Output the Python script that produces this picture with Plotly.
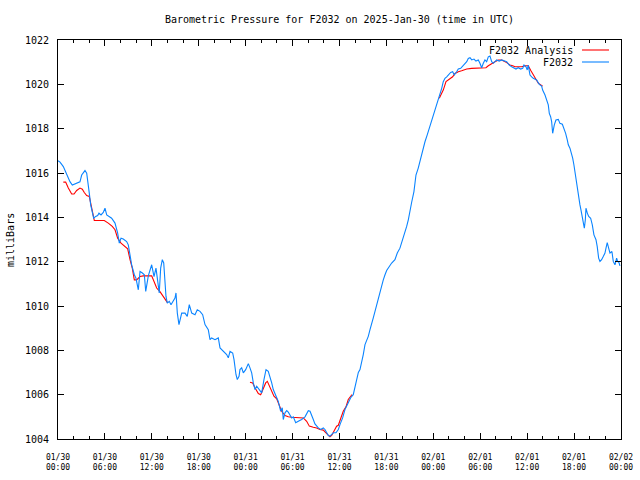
import plotly.graph_objects as go

# ---- data (hours since 2025-01-30 00:00 UTC, pressure in mbar) ----
obs_hours = [0.0, 0.26, 0.68, 0.9, 1.1, 1.53, 1.83, 2.39, 2.81, 3.03, 3.45, 3.67, 3.79, 4.0, 4.18, 4.39, 4.56, 4.82,
             5.07, 5.24, 5.5, 5.79, 6.01, 6.23, 6.43, 6.86, 7.29, 7.5, 7.63, 7.84, 8.06, 8.35, 8.78, 8.99, 9.21, 9.42,
             9.76, 9.97, 10.27, 10.49, 10.79, 11.04, 11.22, 11.55, 11.98, 12.28, 12.53, 12.75, 12.95, 13.13, 13.34,
             13.52, 13.64, 13.81, 13.98, 14.23, 14.45, 14.67, 14.96, 15.09, 15.26, 15.47, 15.69, 15.82, 16.24, 16.53,
             16.79, 17.1, 17.52, 17.81, 18.16, 18.5, 18.8, 19.22, 19.44, 19.65, 20.08, 20.5, 20.72, 21.14, 21.57,
             21.78, 22.0, 22.34, 22.51, 22.76, 22.93, 23.15, 23.27, 23.49, 23.7, 24.0, 24.34, 24.55, 24.77, 24.98,
             25.19, 25.41, 25.74, 26.05, 26.34, 26.6, 26.89, 27.11, 27.33, 27.53, 27.75, 27.97, 28.17, 28.3, 28.48,
             28.68, 28.81, 29.03, 29.25, 29.45, 29.67, 29.89, 30.09, 30.4, 30.73, 31.16, 31.59, 31.8, 32.01, 32.23,
             32.44, 32.65, 32.86, 33.08, 33.29, 33.59, 33.93, 34.14, 34.36, 34.57, 34.78, 35.0, 35.21, 35.55, 35.85,
             36.06, 36.4, 36.7, 37.12, 37.43, 37.76, 37.98, 38.2, 38.41, 38.62, 38.83, 39.04, 39.26, 39.68, 39.9,
             40.12, 40.32, 40.54, 40.75, 40.96, 41.18, 41.4, 41.6, 41.82, 42.03, 42.37, 42.67, 43.09, 43.39, 43.73,
             43.95, 44.16, 44.37, 44.59, 44.8, 45.01, 45.23, 45.52, 45.78, 46.07, 46.38, 46.64, 46.93, 47.22, 47.48,
             47.79, 48.08, 48.43, 48.63, 48.85, 49.07, 49.27, 49.49, 49.71, 49.91, 50.22, 50.47, 50.68, 50.98, 51.19,
             51.5, 51.83, 52.05, 52.27, 52.47, 52.69, 52.91, 53.2, 53.45, 53.75, 53.96, 54.18, 54.39, 54.6, 54.82,
             55.03, 55.24, 55.46, 55.67, 55.88, 56.1, 56.43, 56.74, 57.38, 57.71, 58.02, 58.31, 58.57, 58.86, 59.17,
             59.43, 59.59, 59.85, 60.01, 60.14, 60.36, 60.58, 60.78, 61.21, 61.55, 61.85, 61.98, 62.28, 62.49, 62.7,
             62.83, 63.0, 63.13, 63.26, 63.47, 63.68, 63.98, 64.19, 64.5, 64.71, 64.92, 65.13, 65.26, 65.47, 65.69,
             65.82, 65.98, 66.11, 66.24, 66.41, 66.54, 66.75, 66.88, 67.05, 67.18, 67.31, 67.44, 67.52, 67.69, 67.87,
             68.12, 68.33, 68.54, 68.8, 68.96, 69.14, 69.31, 69.52, 69.73, 69.95, 70.08, 70.24, 70.42, 70.59, 70.84,
             71.01, 71.23, 71.44, 71.57, 71.74, 71.87]
obs_mbar = [1016.55, 1016.49, 1016.29, 1016.11, 1015.99, 1015.61, 1015.46, 1015.54, 1015.6, 1015.91, 1016.11, 1015.99,
            1015.54, 1015.09, 1014.56, 1014.26, 1013.96, 1014.04, 1014.08, 1014.19, 1014.11, 1014.22, 1014.41, 1014.11,
            1014.07, 1013.96, 1013.74, 1013.44, 1013.29, 1012.84, 1013.06, 1013.02, 1012.91, 1012.76, 1012.23, 1011.86,
            1011.41, 1011.26, 1010.73, 1011.56, 1011.49, 1011.41, 1010.66, 1011.36, 1011.86, 1011.33, 1011.71, 1011.04,
            1010.59, 1011.71, 1012.09, 1011.94, 1011.26, 1010.43, 1010.13, 1010.21, 1010.06, 1010.21, 1010.36, 1010.59,
            1009.68, 1009.16, 1009.53, 1009.68, 1009.68, 1009.53, 1010.06, 1009.68, 1009.61, 1009.83, 1009.76, 1009.61,
            1009.16, 1008.93, 1008.48, 1008.56, 1008.48, 1008.56, 1008.11, 1007.95, 1007.81, 1007.66, 1007.95, 1007.88,
            1007.58, 1006.91, 1006.68, 1006.83, 1007.13, 1007.21, 1006.98, 1007.13, 1007.4, 1007.21, 1006.98, 1006.53,
            1006.23, 1006.38, 1006.23, 1006.08, 1006.68, 1007.13, 1007.05, 1006.83, 1006.53, 1006.23, 1006.0, 1005.86,
            1005.7, 1005.48, 1005.25, 1005.41, 1004.88, 1005.18, 1005.28, 1005.21, 1005.06, 1004.95, 1005.0, 1004.73,
            1004.8, 1004.88, 1005.0, 1005.18, 1005.28, 1005.25, 1005.1, 1004.88, 1004.68, 1004.58, 1004.5, 1004.43,
            1004.5, 1004.43, 1004.31, 1004.16, 1004.13, 1004.2, 1004.28, 1004.28, 1004.43, 1004.65, 1004.95, 1005.33,
            1005.63, 1005.86, 1006.0, 1006.3, 1006.7, 1007.0, 1007.13, 1007.43, 1007.81, 1008.26, 1008.63, 1008.93,
            1009.16, 1009.46, 1009.76, 1010.06, 1010.36, 1010.59, 1010.96, 1011.18, 1011.41, 1011.6, 1011.78, 1011.94,
            1012.09, 1012.39, 1012.61, 1012.84, 1013.14, 1013.36, 1013.59, 1013.89, 1014.34, 1014.68, 1015.16, 1015.91,
            1016.22, 1016.67, 1017.04, 1017.41, 1017.72, 1018.02, 1018.39, 1018.69, 1019.07, 1019.29, 1019.52, 1019.82,
            1020.12, 1020.27, 1020.34, 1020.42, 1020.54, 1020.57, 1020.42, 1020.57, 1020.69, 1020.72, 1020.87, 1020.95,
            1021.02, 1021.17, 1021.2, 1021.1, 1021.14, 1021.05, 1021.1, 1020.95, 1020.75, 1020.95, 1021.1, 1021.02,
            1021.24, 1021.28, 1021.02, 1020.95, 1021.02, 1021.1, 1021.05, 1021.1, 1021.02, 1020.87, 1020.79, 1020.72,
            1020.69, 1020.75, 1020.69, 1020.72, 1020.87, 1020.79, 1020.65, 1020.87, 1020.42, 1020.34, 1020.27, 1020.2,
            1020.0, 1019.92, 1019.74, 1019.52, 1019.29, 1019.07, 1018.69, 1018.54, 1018.32, 1017.79, 1018.17, 1018.39,
            1018.42, 1018.24, 1018.2, 1018.02, 1017.79, 1017.49, 1017.27, 1017.12, 1016.89, 1016.67, 1016.36, 1016.06,
            1015.69, 1015.32, 1014.86, 1014.56, 1014.34, 1014.04, 1013.66, 1013.51, 1013.89, 1014.41, 1014.19, 1014.04,
            1013.96, 1013.66, 1013.21, 1012.99, 1012.68, 1012.16, 1012.01, 1012.09, 1012.23, 1012.39, 1012.61, 1012.86,
            1012.61, 1012.39, 1012.46, 1012.01, 1011.86, 1012.16, 1012.01, 1011.96, 1011.81]

# analysis: three segments separated by gaps (None)
ana_hours = [0.68, 0.98, 1.32, 1.75, 2.05, 2.39, 2.81, 3.11, 3.36, 3.67, 4.0, 4.18, 4.39, 4.64, 5.07, 5.92, 6.43, 6.94,
             7.29, 7.63, 8.06, 8.57, 8.91, 9.21, 9.5, 9.76, 10.06, 10.49, 10.91, 11.98, 12.28, 12.62, 13.04, 13.47,
             13.81, 14.0, None,
             24.55, 24.9, 25.19, 25.62, 25.92, 26.26, 26.56, 26.77, 27.02, 27.33, 27.62, 27.97, 28.3, 28.6, 29.03,
             29.45, 29.89, 31.37, 31.8, 32.14, 32.65, 33.08, 33.5, 33.93, 34.27, 34.57, 34.78, 35.0, 35.29, 35.63,
             35.85, 36.16, 36.48, 36.83, 37.12, 37.43, 37.6, None,
             48.76, 49.27, 49.62, 49.91, 50.13, 50.47, 50.77, 51.19, 51.62, 52.27, 52.91, 53.54, 54.3, 54.73, 55.03,
             55.46, 55.88, 56.31, 56.74, 57.38, 57.8, 58.15, 58.44, 58.86, 59.29, 59.72, 60.14, 60.5, 61.0, 61.42,
             61.98]
ana_mbar = [1015.59, 1015.59, 1015.32, 1015.05, 1015.05, 1015.21, 1015.32, 1015.27, 1015.12, 1014.98, 1014.94, 1014.64,
            1014.26, 1013.86, 1013.86, 1013.86, 1013.74, 1013.59, 1013.44, 1013.06, 1012.84, 1012.66, 1012.58, 1012.09,
            1011.71, 1011.18, 1011.18, 1011.33, 1011.36, 1011.36, 1011.11, 1010.81, 1010.65, 1010.4, 1010.21, 1010.15,
            None,
            1006.56, 1006.53, 1006.31, 1006.05, 1006.0, 1006.31, 1006.53, 1006.6, 1006.38, 1006.15, 1005.93, 1005.81,
            1005.48, 1005.25, 1005.06, 1005.0, 1004.98, 1004.95, 1004.8, 1004.58, 1004.53, 1004.5, 1004.43, 1004.4,
            1004.28, 1004.16, 1004.1, 1004.16, 1004.35, 1004.58, 1004.62, 1004.95, 1005.25, 1005.45, 1005.78, 1005.93,
            1006.0, None,
            1019.37, 1019.74, 1020.12, 1020.19, 1020.27, 1020.34, 1020.49, 1020.57, 1020.61, 1020.69, 1020.72, 1020.72,
            1020.72, 1020.75, 1020.84, 1020.95, 1021.02, 1021.1, 1021.1, 1020.98, 1020.87, 1020.84, 1020.79, 1020.79,
            1020.79, 1020.84, 1020.84, 1020.6, 1020.27, 1020.05, 1019.92]

tick_hours = [0, 6, 12, 18, 24, 30, 36, 42, 48, 54, 60, 66, 72]
tick_labels = ["01/30<br>00:00", "01/30<br>06:00", "01/30<br>12:00", "01/30<br>18:00",
               "01/31<br>00:00", "01/31<br>06:00", "01/31<br>12:00", "01/31<br>18:00",
               "02/01<br>00:00", "02/01<br>06:00", "02/01<br>12:00", "02/01<br>18:00",
               "02/02<br>00:00"]
y_ticks = [1004, 1006, 1008, 1010, 1012, 1014, 1016, 1018, 1020, 1022]

title_text = "Barometric Pressure for F2032 on 2025-Jan-30 (time in UTC)"
series_names = ["F2032 Analysis", "F2032"]
series_colors = ["#ff0000", "#0a84ff"]

FONT = "DejaVu Sans Mono"

fig = go.Figure()
fig.add_trace(go.Scatter(x=ana_hours, y=ana_mbar, mode="lines", name=series_names[0],
                         line=dict(color=series_colors[0], width=1.1), connectgaps=False,
                         showlegend=False))
fig.add_trace(go.Scatter(x=obs_hours, y=obs_mbar, mode="lines", name=series_names[1],
                         line=dict(color=series_colors[1], width=1.1), showlegend=False))

# gnuplot-style key: text right-aligned, sample line to its right
L, R, T, B = 58, 19, 40, 41
W, H = 640 - L - R, 480 - T - B
def px(xp):
    return (xp - L) / W
def py(yp):
    return (480 - B - yp) / H

for i, (nm, col) in enumerate(zip(series_names, series_colors)):
    yy = 50 + 12 * i
    fig.add_annotation(x=px(575), y=py(yy), xref="paper", yref="paper", text=nm, showarrow=False,
                       xanchor="right", yanchor="middle", font=dict(family=FONT, size=10, color="black"))
    fig.add_shape(type="line", xref="paper", yref="paper", x0=px(582), x1=px(609), y0=py(yy), y1=py(yy),
                  line=dict(color=col, width=1.1))

fig.add_annotation(x=px(10), y=py(240), xref="paper", yref="paper", text="milliBars", showarrow=False,
                   textangle=-90, xanchor="center", yanchor="middle",
                   font=dict(family=FONT, size=10, color="black"))

fig.update_layout(
    width=640, height=480,
    margin=dict(l=L, r=R, t=T, b=B, pad=0, autoexpand=False),
    paper_bgcolor="white", plot_bgcolor="white",
    title=dict(text=title_text, x=0.5, xref="paper", y=1 - 19 / 480, yref="container",
               xanchor="center", yanchor="middle", automargin=False,
               font=dict(family=FONT, size=10, color="black")),
    font=dict(family=FONT, color="black"),
)
fig.update_xaxes(range=[0, 72], tickvals=tick_hours, ticktext=tick_labels, showgrid=False, zeroline=False,
                 automargin=False,
                 showline=True, linecolor="black", linewidth=1, mirror="allticks",
                 ticks="inside", ticklen=6, tickcolor="black", tickwidth=1,
                 tickfont=dict(family=FONT, size=8, color="black"), ticklabelstandoff=10,
                 minor=dict(dtick=2, tick0=0, ticks="inside", ticklen=3, tickcolor="black", showgrid=False))
fig.update_yaxes(range=[1004, 1022], tickvals=y_ticks, showgrid=False, zeroline=False,
                 automargin=False,
                 showline=True, linecolor="black", linewidth=1, mirror="allticks",
                 ticks="inside", ticklen=6, tickcolor="black", tickwidth=1,
                 tickfont=dict(family=FONT, size=10, color="black"), ticklabelstandoff=6)

fig.write_html("out.html", config={"displayModeBar": False},
               post_script="document.body.style.margin='0';document.body.style.padding='0';")
